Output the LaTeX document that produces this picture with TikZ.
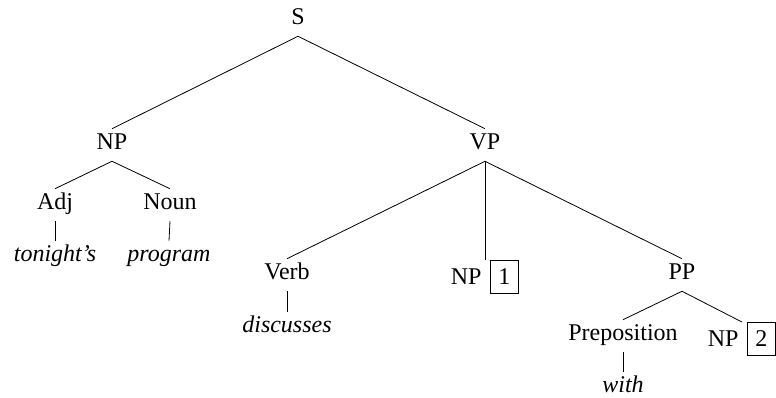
\documentclass[tikz,border=0pt]{standalone}
\usepackage{fontspec}
\setmainfont{Liberation Serif}
\newcommand\numbox[1]{{\setlength{\fboxsep}{6pt}\setlength{\fboxrule}{0.6pt}\fbox{#1}}}
\begin{document}
\begin{tikzpicture}[x=0.75pt,y=-0.75pt,
  lab/.style={anchor=base,font=\fontsize{18}{22}\selectfont,text height=12pt,text depth=4.5pt,inner xsep=2pt,inner ysep=3.75pt},
  leaf/.style={lab,font=\fontsize{18}{22}\selectfont\itshape},
  boxed/.style={anchor=base,font=\fontsize{18}{22}\selectfont,inner sep=0pt},
  edge/.style={line width=0.6pt}]
\useasboundingbox (0,0) rectangle (776,398);
\node[lab] (S) at (298,25) {S};
\node[lab] (NP) at (112,150) {NP};
\node[lab] (VP) at (485,150) {VP};
\node[lab] (Adj) at (55,210) {Adj};
\node[lab] (Noun) at (170,210) {Noun};
\node[leaf] (tonight) at (55,262) {tonight’s};
\node[leaf] (program) at (169,262) {program};
\node[lab] (Verb) at (287,280) {Verb};
\node[leaf] (discusses) at (287,333) {discusses};
\node[boxed] (NP1) at (485,285) {NP\hspace{6pt}\numbox{1}};
\node[lab] (PP) at (682,280) {PP};
\node[lab] (Prep) at (623,341) {Preposition};
\node[leaf] (with) at (623,393) {with};
\node[boxed] (NP2) at (742,347) {NP\hspace{6pt}\numbox{2}};
\draw[edge] (S.south) -- (NP.north);
\draw[edge] (S.south) -- (VP.north);
\draw[edge] (NP.south) -- (Adj.north);
\draw[edge] (NP.south) -- (Noun.north);
\draw[edge] (Adj.south) -- (tonight.north);
\draw[edge] (Noun.south) -- (program.north);
\draw[edge] (VP.south) -- (Verb.north);
\draw[edge] (VP.south) -- (NP1.north);
\draw[edge] (VP.south) -- (PP.north);
\draw[edge] (Verb.south) -- (discusses.north);
\draw[edge] (PP.south) -- (Prep.north);
\draw[edge] (PP.south) -- (NP2.north);
\draw[edge] (Prep.south) -- (with.north);
\end{tikzpicture}
\end{document}
